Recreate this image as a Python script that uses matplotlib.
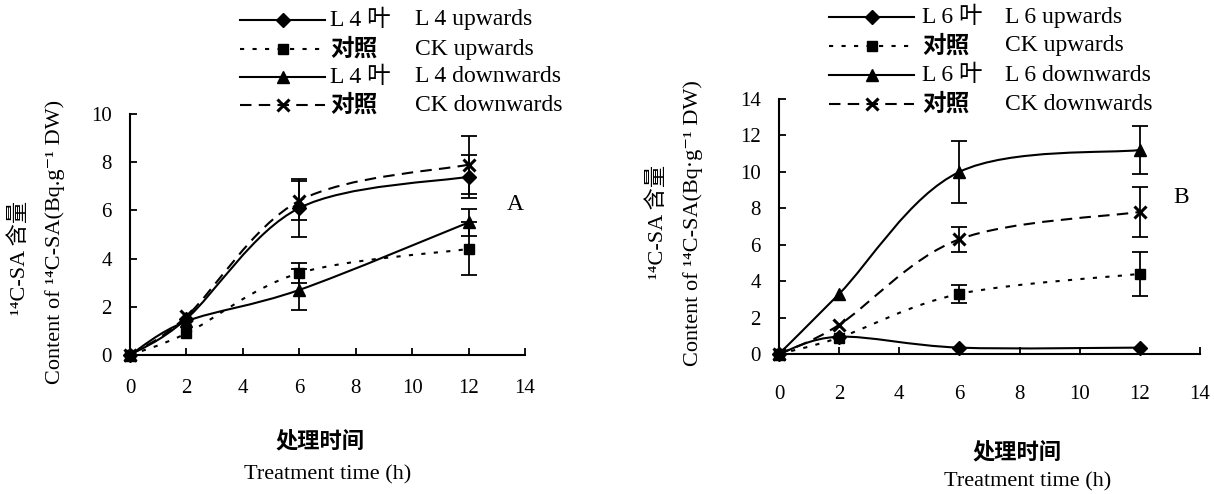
import numpy as np
import matplotlib
matplotlib.use("Agg")
import matplotlib.pyplot as plt
from matplotlib.path import Path
from matplotlib.patches import PathPatch
from matplotlib.lines import Line2D

plt.rcParams['font.family'] = ['Liberation Serif', 'Noto Sans CJK SC', 'DejaVu Serif']

W, H = 1214, 494

hours = [0, 2, 6, 12]

# panel A: 4th leaf
a_l4_up = [0.0, 1.5, 6.1, 7.4]
a_l4_up_err = [0, 0, 1.2, 0.9]
a_ck_up = [0.0, 0.9, 3.4, 4.4]
a_ck_up_err = [0, 0, 0.4, 1.1]
a_l4_down = [0.0, 1.4, 2.7, 5.5]
a_l4_down_err = [0, 0, 0.85, 0.55]
a_ck_down = [0.0, 1.6, 6.4, 7.9]
a_ck_down_err = [0, 0, 0.8, 1.2]

# panel B: 6th leaf
b_l6_up = [0.0, 0.95, 0.35, 0.35]
b_l6_up_err = [0, 0, 0, 0]
b_ck_up = [0.0, 0.9, 3.3, 4.4]
b_ck_up_err = [0, 0, 0.5, 1.2]
b_l6_down = [0.0, 3.3, 10.0, 11.2]
b_l6_down_err = [0, 0, 1.7, 1.3]
b_ck_down = [0.0, 1.6, 6.3, 7.8]
b_ck_down_err = [0, 0, 0.7, 1.35]

labels_a = [("L 4 叶", "L 4 upwards"), ("对照", "CK upwards"),
            ("L 4 叶", "L 4 downwards"), ("对照", "CK downwards")]
labels_b = [("L 6 叶", "L 6 upwards"), ("对照", "CK upwards"),
            ("L 6 叶", "L 6 downwards"), ("对照", "CK downwards")]

# line style per series: (linestyle, marker, markersize, mew)
styles = [
    ("-", "D", 7, 1),
    ((0, (2, 4)), "s", 7, 1),
    ("-", "^", 8.5, 1),
    ((0, (5.5, 3.5)), "x", 9, 2.2),
]


def px(x, y):
    return x / W, 1 - y / H


def smooth_path(x, y):
    # Excel-style smoothed line (Catmull-Rom as cubic Bezier)
    pts = np.column_stack([x, y]).astype(float)
    n = len(pts)
    verts = [pts[0]]
    codes = [Path.MOVETO]
    for i in range(n - 1):
        p0 = pts[i - 1] if i > 0 else pts[i]
        p3 = pts[i + 2] if i + 2 < n else pts[i + 1]
        c1 = pts[i] + (pts[i + 1] - p0) / 6
        c2 = pts[i + 1] - (p3 - pts[i]) / 6
        verts += [c1, c2, pts[i + 1]]
        codes += [Path.CURVE4] * 3
    return Path(verts, codes)


def draw_panel(ax, series, errs, ymax, ytick_step, letter, letter_pos, xpad, ypad):
    x = np.asarray(hours, dtype=float)
    for (ls, mk, ms, mew), y, e in zip(styles, series, errs):
        y = np.asarray(y, dtype=float)
        e = np.asarray(e, dtype=float)
        ax.add_patch(PathPatch(smooth_path(x, y), fill=False, lw=1.5,
                               linestyle=ls, edgecolor="black", zorder=2))
        m = e > 0
        if m.any():
            ax.errorbar(x[m], y[m], yerr=e[m], fmt="none", ecolor="black",
                        elinewidth=1.3, capsize=5.5, capthick=1.3, zorder=3)
        ax.plot(x, y, linestyle="none", marker=mk, markersize=ms,
                markeredgewidth=mew, color="black", clip_on=False, zorder=4)

    ax.set_xlim(0, 14)
    ax.set_ylim(0, ymax)
    ax.set_xticks(np.arange(0, 15, 2))
    ax.set_yticks(np.arange(0, ymax + 0.1, ytick_step))
    for s in ("top", "right"):
        ax.spines[s].set_visible(False)
    for s in ("left", "bottom"):
        ax.spines[s].set_linewidth(1.5)
    ax.tick_params(axis="x", direction="in", length=5, width=1.3,
                   labelsize=15, pad=xpad)
    ax.tick_params(axis="y", direction="in", length=5, width=1.3,
                   labelsize=15, pad=ypad)
    ax.text(letter_pos[0], letter_pos[1], letter, transform=ax.transAxes,
            fontsize=17, ha="center", va="center")


def draw_legend(fig, labels, x0, x1, xcn, xen, rows):
    for (ls, mk, ms, mew), (cn, en), yy in zip(styles, labels, rows):
        xa, ya = px(x0, yy)
        xb, _ = px(x1, yy)
        xm, _ = px((x0 + x1) / 2, yy)
        fig.add_artist(Line2D([xa, xb], [ya, ya], lw=1.5, linestyle=ls,
                              color="black", transform=fig.transFigure))
        fig.add_artist(Line2D([xm], [ya], marker=mk, markersize=ms,
                              markeredgewidth=mew, color="black",
                              transform=fig.transFigure))
        weight = "bold" if cn == "对照" else "normal"
        fig.text(*px(xcn, yy), cn, fontsize=17, ha="left", va="center",
                 fontweight=weight)
        fig.text(*px(xen, yy), en, fontsize=17, ha="left", va="center")


fig = plt.figure(figsize=(W / 100, H / 100), dpi=100)

ax_a = fig.add_axes([130 / W, (H - 355) / H, 395 / W, 241 / H])
draw_panel(ax_a, [a_l4_up, a_ck_up, a_l4_down, a_ck_down],
           [a_l4_up_err, a_ck_up_err, a_l4_down_err, a_ck_down_err],
           10, 2, "A", (0.975, 0.625), xpad=17, ypad=13)

ax_b = fig.add_axes([779 / W, (H - 354) / H, 421 / W, 255 / H])
draw_panel(ax_b, [b_l6_up, b_ck_up, b_l6_down, b_ck_down],
           [b_l6_up_err, b_ck_up_err, b_l6_down_err, b_ck_down_err],
           14, 2, "B", (0.955, 0.615), xpad=22, ypad=13)

draw_legend(fig, labels_a, 240, 325, 330, 415, [20, 49, 77, 105])
draw_legend(fig, labels_b, 829, 914, 922, 1005, [17, 46, 75, 104])

# y-axis titles
fig.text(*px(20, 258), "¹⁴C-SA 含量", fontsize=16, rotation=90,
         ha="center", va="center")
fig.text(*px(55, 242), "Content of ¹⁴C-SA(Bq.g⁻¹ DW)", fontsize=16,
         rotation=90, ha="center", va="center")
fig.text(*px(658, 222), "¹⁴C-SA 含量", fontsize=16, rotation=90,
         ha="center", va="center")
fig.text(*px(693, 223), "Content of ¹⁴C-SA(Bq·g⁻¹ DW)", fontsize=16,
         rotation=90, ha="center", va="center")

# x-axis titles
fig.text(*px(320, 442), "处理时间", fontsize=16, fontweight="bold",
         ha="center", va="center")
fig.text(*px(328, 475), "Treatment time (h)", fontsize=16,
         ha="center", va="center")
fig.text(*px(1017, 453), "处理时间", fontsize=16, fontweight="bold",
         ha="center", va="center")
fig.text(*px(1028, 482), "Treatment time (h)", fontsize=16,
         ha="center", va="center")

fig.savefig("out.png", dpi=100)
